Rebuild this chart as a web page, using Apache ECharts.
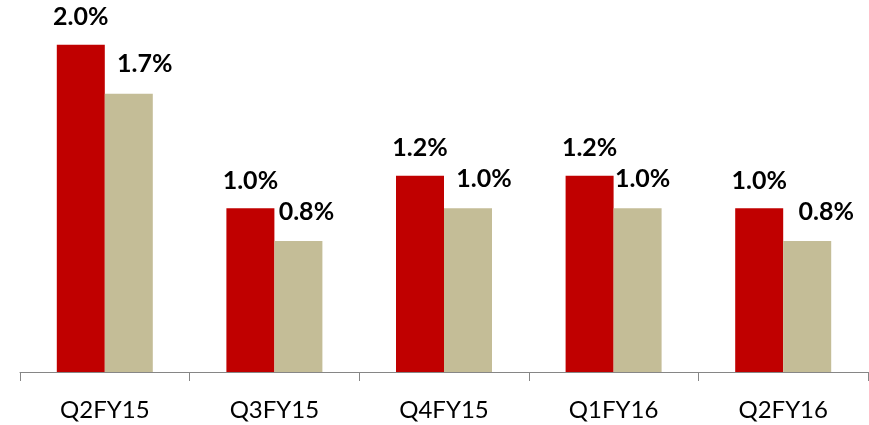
<!DOCTYPE html>
<html>
<head>
<meta charset="utf-8">
<script src="https://cdn.jsdelivr.net/npm/echarts@6/dist/echarts.min.js"></script>
<style>
  html, body { margin: 0; padding: 0; background: #fff; }
  #chart { width: 869px; height: 425px; }
</style>
</head>
<body>
<div id="chart"></div>
<script>
// quarters on the x axis
const quarters = ["Q2FY15", "Q3FY15", "Q4FY15", "Q1FY16", "Q2FY16"];
// red series and tan series, in %
const redValues = [2.0, 1.0, 1.2, 1.2, 1.0];
const tanValues = [1.7, 0.8, 1.0, 1.0, 0.8];
// little sideways nudges of the tan labels, like the original
const tanLabelShift = [16, 8, 16, 5, 19];

const labelFont = {
  fontFamily: "Lato",
  fontWeight: "bold",
  fontSize: 25,
  color: "#000",
  lineHeight: 25,
};

const chart = echarts.init(document.getElementById("chart"), null, { renderer: "canvas" });

chart.setOption({
  animation: false,
  grid: { left: 20, right: 1, top: 12, bottom: 53 },
  xAxis: {
    type: "category",
    data: quarters,
    axisLine: { lineStyle: { color: "#868686", width: 1 } },
    axisTick: { show: true, length: 9, lineStyle: { color: "#868686" } },
    axisLabel: {
      fontFamily: "Lato",
      fontSize: 24,
      color: "#000",
      margin: 26,
    },
  },
  yAxis: {
    type: "value",
    min: 0,
    max: 2.2,
    show: false,
    splitLine: { show: false },
  },
  series: [
    {
      type: "bar",
      data: redValues,
      barWidth: 48,
      barGap: "0%",
      itemStyle: { color: "#C00000" },
      label: {
        show: true,
        position: "top",
        distance: 15,
        formatter: (p) => p.value.toFixed(1) + "%",
        ...labelFont,
      },
    },
    {
      type: "bar",
      data: tanValues.map((v, i) => ({
        value: v,
        label: { offset: [tanLabelShift[i], 0] },
      })),
      barWidth: 48,
      itemStyle: { color: "#C4BD97" },
      label: {
        show: true,
        position: "top",
        distance: 17,
        formatter: (p) => p.value.toFixed(1) + "%",
        ...labelFont,
      },
    },
  ],
});
</script>
</body>
</html>
